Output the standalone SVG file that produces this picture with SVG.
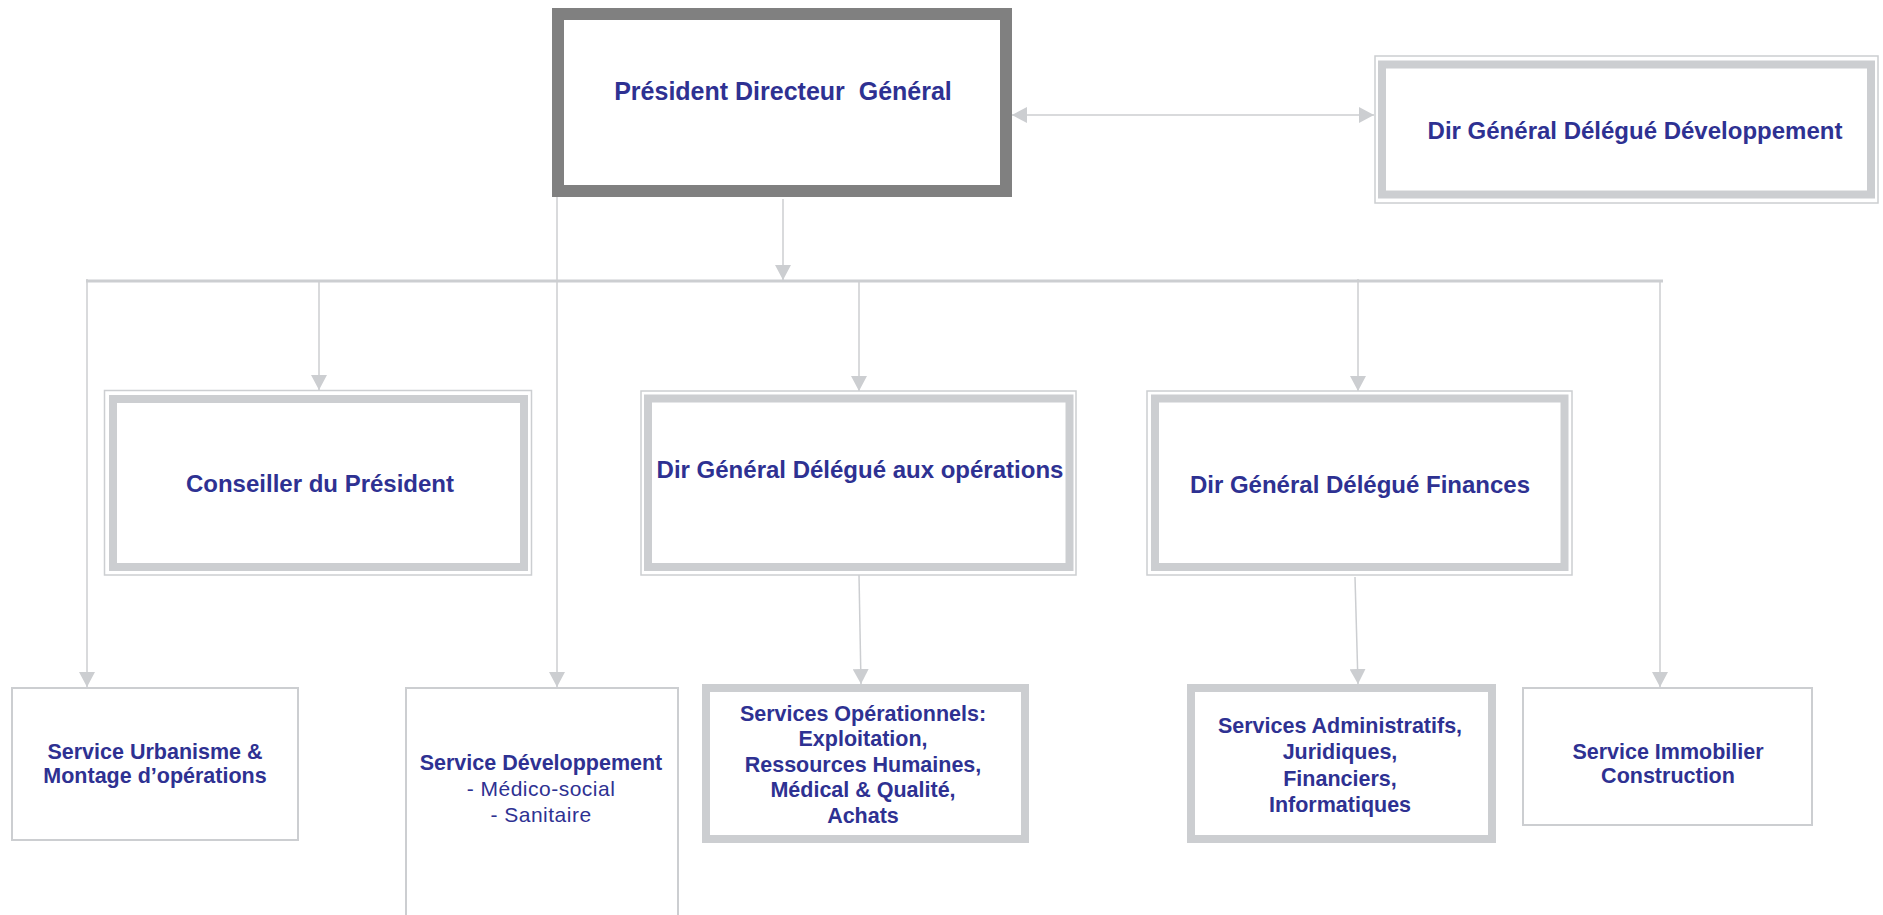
<svg xmlns="http://www.w3.org/2000/svg" width="1883" height="915" viewBox="0 0 1883 915">
<defs>
<marker id="ah" viewBox="0 0 15 16" markerWidth="15" markerHeight="16" refX="15" refY="8" orient="auto-start-reverse" markerUnits="userSpaceOnUse">
<path d="M0,0 L15,8 L0,16 Z" fill="#ccced1"/>
</marker>
</defs>
<style>
.bg{fill:#ffffff}
.t{font-family:"Liberation Sans",Arial,sans-serif;fill:#2e3192;text-anchor:middle}
.big{font-size:24px;font-weight:bold}
.sm{font-size:21.5px;font-weight:bold}
.rg{font-size:21px;font-weight:normal;letter-spacing:0.5px}
.thin{fill:#ffffff;stroke:#ccced1;stroke-width:1.5}
.band{fill:none;stroke:#ccced1;stroke-width:8}
.box2{fill:#ffffff;stroke:#ccced1;stroke-width:2}
.thick{fill:#ffffff;stroke:#ccced1;stroke-width:8}
.c{fill:none;stroke:#ccced1;stroke-width:1.5}
</style>
<rect class="bg" x="0" y="0" width="1883" height="915"/>

<g id="connectors">
<path class="c" d="M1012,115 L1374,115" stroke-width="2.5" marker-start="url(#ah)" marker-end="url(#ah)"/>
<path class="c" d="M783,199 L783,280" marker-end="url(#ah)"/>
<path d="M86,281 L1663,281" fill="none" stroke="#ccced1" stroke-width="3"/>
<path class="c" d="M87,279 L87,687" marker-end="url(#ah)"/>
<path class="c" d="M319,281 L319,390" marker-end="url(#ah)"/>
<path class="c" d="M557,191 L557,687" marker-end="url(#ah)"/>
<path class="c" d="M859,281 L859,391" marker-end="url(#ah)"/>
<path class="c" d="M1358,279 L1358,391" marker-end="url(#ah)"/>
<path class="c" d="M1660,281 L1660,687" marker-end="url(#ah)"/>
<path class="c" d="M859,575 L861,684" marker-end="url(#ah)"/>
<path class="c" d="M1355,577 L1358,684" marker-end="url(#ah)"/>
</g>

<g id="pdg">
<rect x="558" y="14" width="448" height="177" fill="#ffffff" stroke="#808080" stroke-width="12"/>
<text class="t big" x="783" y="100" style="font-size:25px;white-space:pre" xml:space="preserve">Président Directeur  Général</text>
</g>

<g id="dgd-dev">
<rect class="thin" x="1375" y="56" width="503" height="147"/>
<rect class="band" x="1382" y="64.5" width="489" height="130"/>
<text class="t big" x="1635" y="139">Dir Général Délégué Développement</text>
</g>

<g id="conseiller">
<rect class="thin" x="104.5" y="390.5" width="427" height="184.5"/>
<rect class="band" x="113" y="399" width="411" height="168"/>
<text class="t big" x="320" y="492">Conseiller du Président</text>
</g>

<g id="dgd-ops">
<rect class="thin" x="641" y="391" width="435" height="184"/>
<rect class="band" x="648" y="398.5" width="421.5" height="168.5"/>
<text class="t big" x="860" y="478">Dir Général Délégué aux opérations</text>
</g>

<g id="dgd-fin">
<rect class="thin" x="1147" y="391" width="425" height="184"/>
<rect class="band" x="1155" y="398.5" width="409.5" height="168.5"/>
<text class="t big" x="1360" y="493">Dir Général Délégué Finances</text>
</g>

<g id="urbanisme">
<rect class="box2" x="12" y="688" width="286" height="152"/>
<text class="t sm" x="155" y="759">Service Urbanisme &amp;</text>
<text class="t sm" x="155" y="783">Montage d’opérations</text>
</g>

<g id="developpement">
<rect class="box2" x="406" y="688" width="272" height="240"/>
<text class="t sm" x="541" y="770">Service Développement</text>
<text class="t rg" x="541" y="796">- Médico-social</text>
<text class="t rg" x="541" y="822">- Sanitaire</text>
</g>

<g id="services-op">
<rect class="thick" x="706" y="688" width="319" height="151"/>
<text class="t sm" x="863" y="721">Services Opérationnels:</text>
<text class="t sm" x="863" y="746">Exploitation,</text>
<text class="t sm" x="863" y="772">Ressources Humaines,</text>
<text class="t sm" x="863" y="797">Médical &amp; Qualité,</text>
<text class="t sm" x="863" y="823">Achats</text>
</g>

<g id="services-admin">
<rect class="thick" x="1191" y="688" width="301" height="151"/>
<text class="t sm" x="1340" y="733">Services Administratifs,</text>
<text class="t sm" x="1340" y="759">Juridiques,</text>
<text class="t sm" x="1340" y="786">Financiers,</text>
<text class="t sm" x="1340" y="812">Informatiques</text>
</g>

<g id="immobilier">
<rect class="box2" x="1523" y="688" width="289" height="137"/>
<text class="t sm" x="1668" y="759">Service Immobilier</text>
<text class="t sm" x="1668" y="783">Construction</text>
</g>
</svg>
